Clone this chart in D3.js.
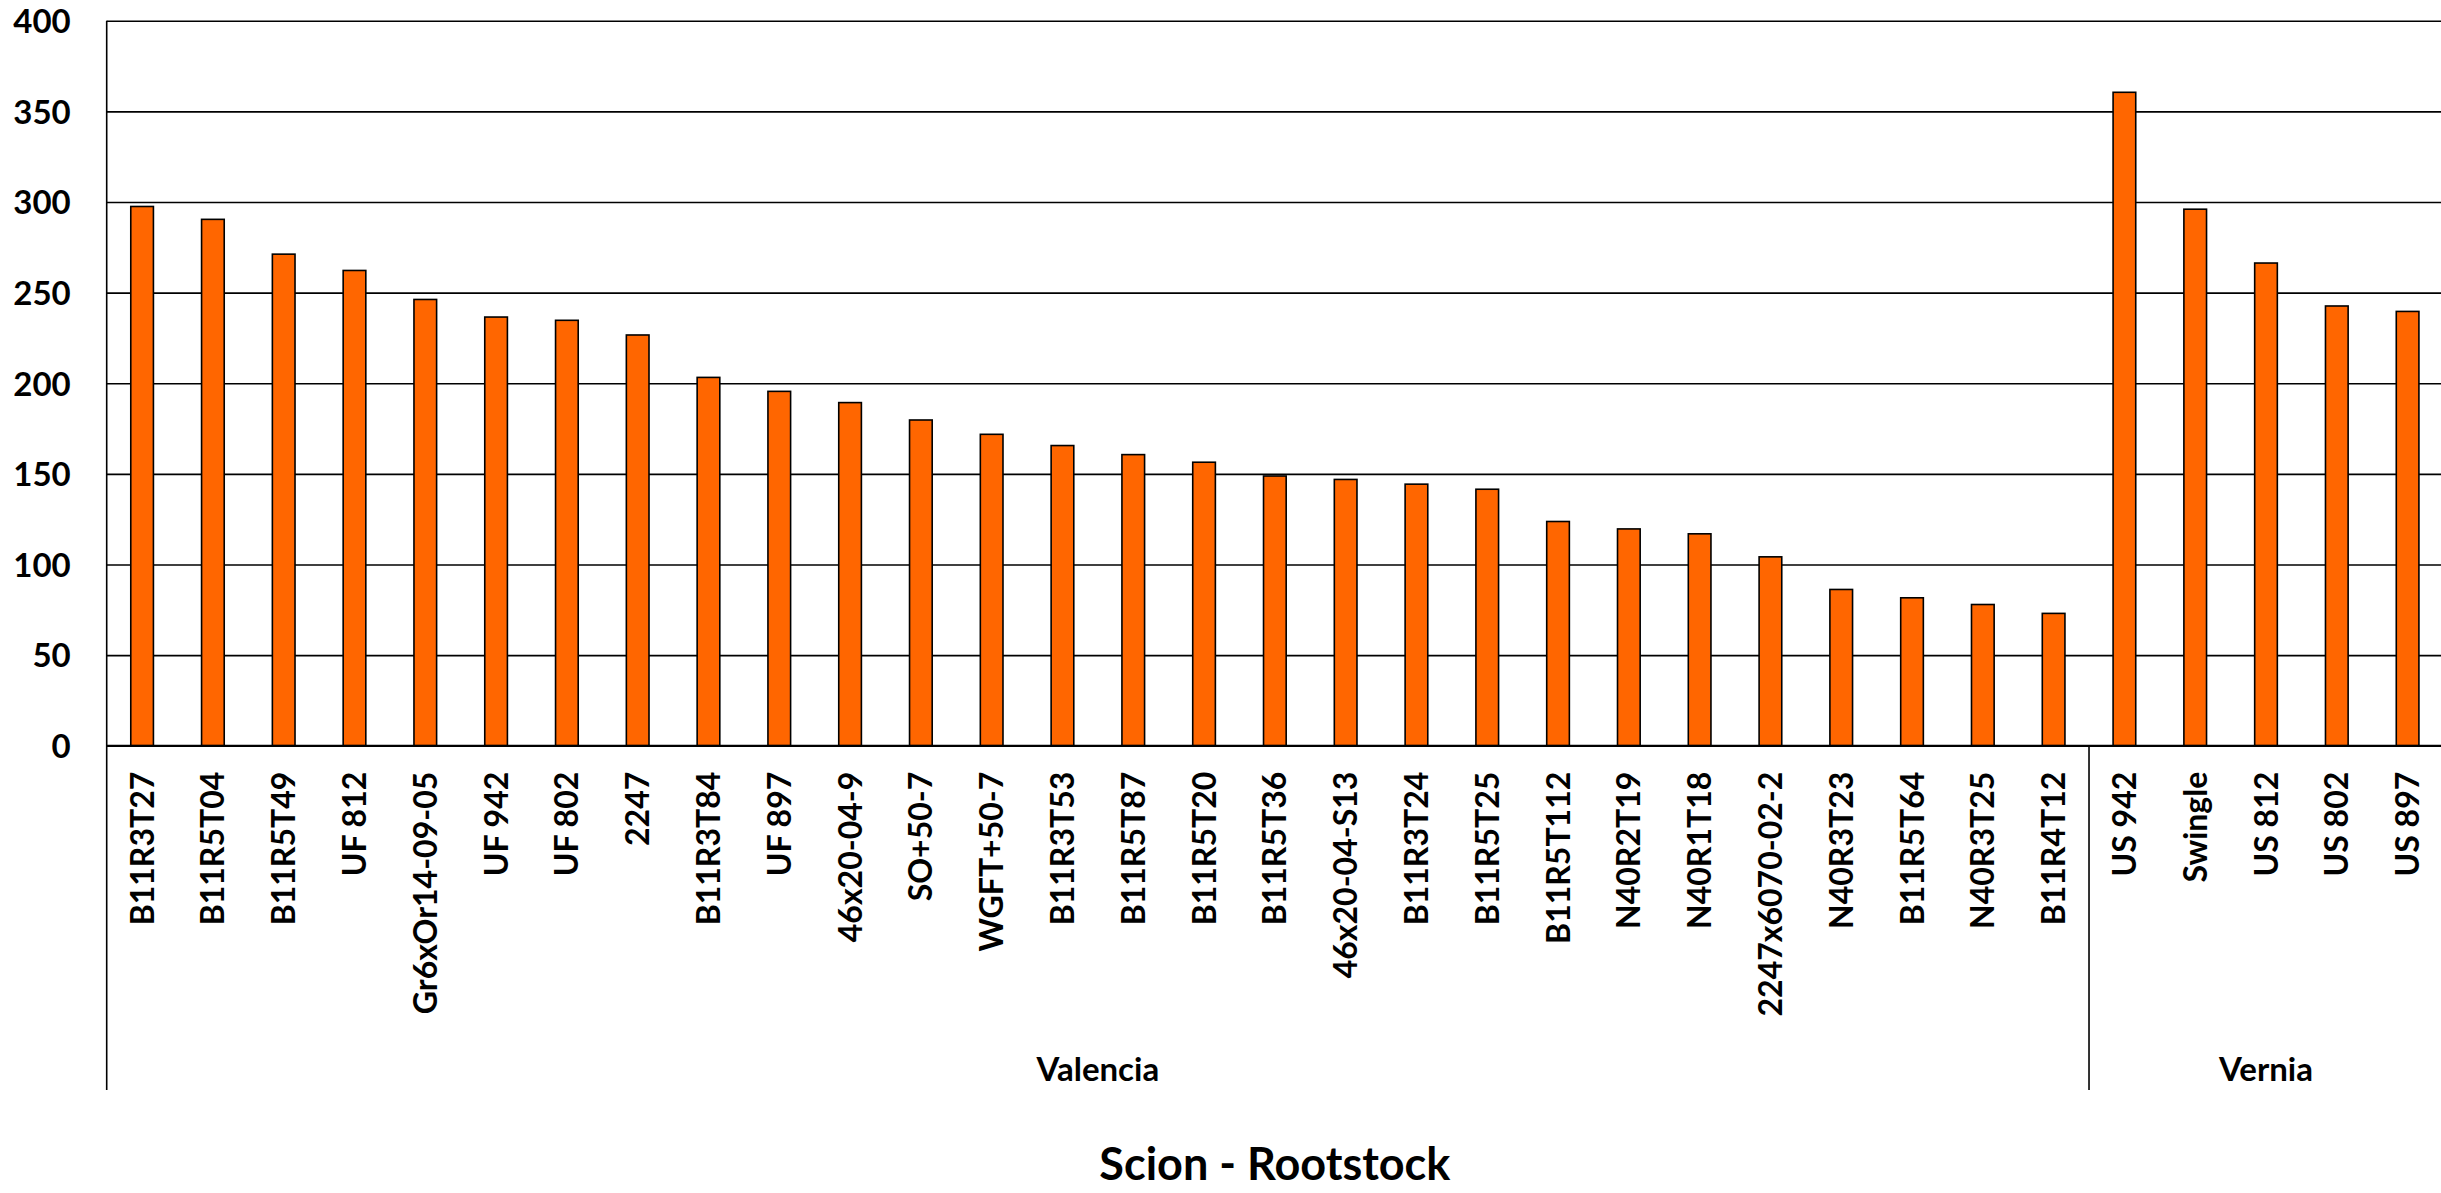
<!DOCTYPE html>
<html>
<head>
<meta charset="utf-8">
<script src="https://cdn.jsdelivr.net/npm/d3@7"></script>
<style>
  html, body { margin: 0; padding: 0; background: #fff; }
  svg { display: block; }
  text { font-family: Lato, "Open Sans", sans-serif; font-weight: 700; fill: #000; }
</style>
</head>
<body>
<svg id="chart" width="2441" height="1193"></svg>
<script>
const categories = [
  "B11R3T27","B11R5T04","B11R5T49","UF 812","Gr6xOr14-09-05","UF 942","UF 802","2247",
  "B11R3T84","UF 897","46x20-04-9","SO+50-7","WGFT+50-7","B11R3T53","B11R5T87","B11R5T20",
  "B11R5T36","46x20-04-S13","B11R3T24","B11R5T25","B11R5T112","N40R2T19","N40R1T18",
  "2247x6070-02-2","N40R3T23","B11R5T64","N40R3T25","B11R4T12",
  "US 942","Swingle","US 812","US 802","US 897"
];
const values = [
  297.5, 290.4, 271.2, 262.2, 246.2, 236.5, 234.7, 226.6,
  203.2, 195.5, 189.3, 179.7, 171.8, 165.6, 160.6, 156.4,
  148.8, 146.9, 144.3, 141.5, 123.7, 119.6, 116.9,
  104.2, 86.2, 81.6, 77.9, 73.0,
  360.5, 296.0, 266.3, 242.6, 239.6
];
const groupNames = ["Valencia", "Vernia"];
const groupCounts = [28, 5];
const yTicks = [0, 50, 100, 150, 200, 250, 300, 350, 400];
const xTitle = "Scion - Rootstock";

(function () {
const svg = d3.select("#chart");
const mLeft = 106.7, mRight = 2443, mTop = 20.7, mBottom = 745.7, lowerLine = 1090;

const x = d3.scaleBand()
  .domain(d3.range(categories.length))
  .range([mLeft, mRight])
  .paddingInner(0.68)
  .paddingOuter(0.34);
const step = x.step();

const y = d3.scaleLinear().domain([0, 400]).range([mBottom, mTop]);

// gridlines + y tick labels
const yAxis = d3.axisLeft(y)
  .tickValues(yTicks)
  .tickSize(-(mRight - mLeft))
  .tickPadding(36)
  .tickFormat(d3.format("d"));
const gy = svg.append("g")
  .attr("transform", `translate(${mLeft},0)`)
  .call(yAxis);
gy.select(".domain").remove();
gy.selectAll(".tick line").attr("stroke", "#000").attr("stroke-width", 1.6);
gy.selectAll(".tick text")
  .style("font-size", "33px")
  .attr("dy", "0.36em")
  .attr("fill", "#000");

// bars
svg.append("g").selectAll("rect")
  .data(values)
  .join("rect")
  .attr("x", (d, i) => x(i))
  .attr("width", x.bandwidth())
  .attr("y", d => y(d))
  .attr("height", d => y(0) - y(d))
  .attr("fill", "#FF6600")
  .attr("stroke", "#000")
  .attr("stroke-width", 1.6);

// x axis line
svg.append("line")
  .attr("x1", mLeft).attr("x2", mRight)
  .attr("y1", y(0)).attr("y2", y(0))
  .attr("stroke", "#000").attr("stroke-width", 1.8);

// left axis line (extends down into group label area)
svg.append("line")
  .attr("x1", mLeft).attr("x2", mLeft)
  .attr("y1", y(400)).attr("y2", lowerLine)
  .attr("stroke", "#000").attr("stroke-width", 1.6);

// category labels
svg.append("g").selectAll("text")
  .data(categories)
  .join("text")
  .attr("transform", (d, i) => `translate(${x(i) + x.bandwidth() / 2},${y(0) + 26}) rotate(-90)`)
  .attr("text-anchor", "end")
  .attr("dy", "0.36em")
  .style("font-size", "32px")
  .text(d => d);

// groups: separators and labels
let start = 0;
groupNames.forEach((g, gi) => {
  const x0 = mLeft + start * step;
  const x1 = mLeft + (start + groupCounts[gi]) * step;
  if (gi > 0) {
    svg.append("line")
      .attr("x1", x0).attr("x2", x0)
      .attr("y1", y(0)).attr("y2", lowerLine)
      .attr("stroke", "#000").attr("stroke-width", 1.6);
  }
  svg.append("text")
    .attr("x", (x0 + x1) / 2)
    .attr("y", 1081)
    .attr("text-anchor", "middle")
    .style("font-size", "33px")
    .text(g);
  start += groupCounts[gi];
});

// x axis title
svg.append("text")
  .attr("x", (mLeft + mRight) / 2)
  .attr("y", 1180)
  .attr("text-anchor", "middle")
  .style("font-size", "45px")
  .text(xTitle);
})();
</script>
</body>
</html>
